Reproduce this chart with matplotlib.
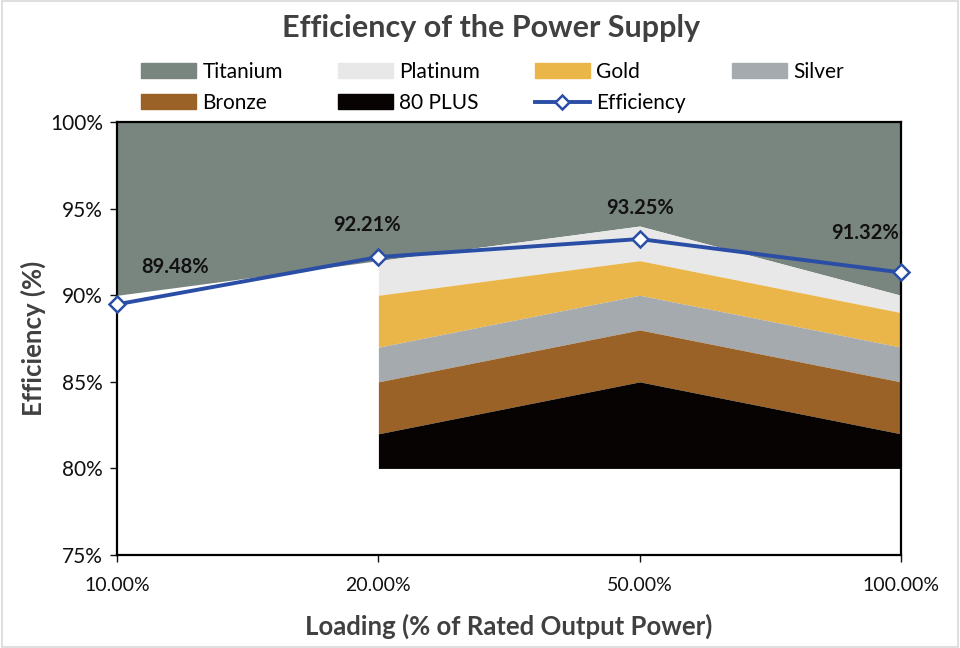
import numpy as np
import matplotlib
matplotlib.use("Agg")
import matplotlib.pyplot as plt
from matplotlib.patches import Patch, Rectangle
from matplotlib.lines import Line2D
from matplotlib.ticker import FuncFormatter

plt.rcParams['font.family'] = ['Lato', 'DejaVu Sans']

# categories on the x axis
loads = ["10.00%", "20.00%", "50.00%", "100.00%"]

# 80 PLUS tier thresholds (%), nan = not defined at that load
titanium = [90, 92, 94, 90]
platinum = [np.nan, 90, 92, 89]
gold = [np.nan, 87, 90, 87]
silver = [np.nan, 85, 88, 85]
bronze = [np.nan, 82, 85, 82]
plus80 = [np.nan, 80, 80, 80]

# measured efficiency
efficiency = [89.48, 92.21, 93.25, 91.32]

tiers = ["Titanium", "Platinum", "Gold", "Silver", "Bronze", "80 PLUS"]
tier_vals = [titanium, platinum, gold, silver, bronze, plus80]
tier_cols = ["#79857f", "#e8e8e8", "#eab64a", "#a4aaad", "#9a6226", "#070302"]

fig = plt.figure(figsize=(9.6, 6.48), dpi=100)
ax = fig.add_axes([0.122, 0.1435, 0.8165, 0.668])
x = np.arange(len(loads))

# each band: from its own threshold up to the next higher tier (titanium up to 100)
for i, (name, vals, col) in enumerate(zip(tiers, tier_vals, tier_cols)):
    lo = np.array(vals, dtype=float)
    hi = np.full(len(x), 100.0) if i == 0 else np.array(tier_vals[i - 1], dtype=float)
    ax.fill_between(x, lo, hi, color=col, linewidth=0, zorder=1)

ax.plot(x, efficiency, color="#2a4ea6", lw=2.8, marker="D", ms=8,
        mfc="white", mec="#2a4ea6", mew=1.8, zorder=5, clip_on=False)

offs = [(42, 20), (-8, 16), (0, 15), (-26, 21)]
for xi, v, o in zip(x, efficiency, offs):
    ax.annotate("%.2f%%" % v, (xi, v), xytext=o, textcoords="offset points",
                ha="center", va="bottom", fontsize=14.5, fontweight="bold",
                color="#111111", zorder=6)

ax.set_xlim(0, 3)
ax.set_ylim(75, 100)
ax.set_xticks(x)
ax.set_xticklabels(loads)
ax.set_yticks(np.arange(75, 101, 5))
ax.yaxis.set_major_formatter(FuncFormatter(lambda v, p: "%d%%" % v))
ax.tick_params(axis="both", labelsize=14, colors="#111111", length=5, width=1)
ax.tick_params(axis="y", labelsize=15, pad=5)
ax.tick_params(axis="x", pad=11)
for s in ax.spines.values():
    s.set_color("black")
    s.set_linewidth(1.6)

ax.set_xlabel("Loading (% of Rated Output Power)", fontsize=18.5, fontweight="bold",
              color="#404040", labelpad=14)
ax.set_ylabel("Efficiency (%)", fontsize=18.5, fontweight="bold", color="#404040", labelpad=3)

fig.text(0.512, 0.957, "Efficiency of the Power Supply", ha="center", va="center",
         fontsize=22, fontweight="bold", color="#404040")

h = [Patch(color=c) for c in tier_cols]
eff_h = Line2D([], [], color="#2a4ea6", lw=2.8, marker="D", ms=7, mfc="white",
               mec="#2a4ea6", mew=1.8)
# one legend per column so the columns sit where the reference has them
cols = [([h[0], h[4]], ["Titanium", "Bronze"]),
        ([h[1], h[5]], ["Platinum", "80 PLUS"]),
        ([h[2], eff_h], ["Gold", "Efficiency"]),
        ([h[3]], ["Silver"])]
col_x = [0.147, 0.352, 0.557, 0.762]
for (hh, ll), cx in zip(cols, col_x):
    fig.legend(hh, ll, loc="upper left", bbox_to_anchor=(cx, 0.905),
               frameon=False, fontsize=15, handlelength=2.65, handleheight=0.75,
               labelspacing=0.55, handletextpad=0.3, borderpad=0, borderaxespad=0)

fig.add_artist(Rectangle((0.002, 0.002), 0.996, 0.996, transform=fig.transFigure,
                         fill=False, edgecolor="#d9d9d9", lw=1.2))

fig.savefig("out.png", dpi=100)
